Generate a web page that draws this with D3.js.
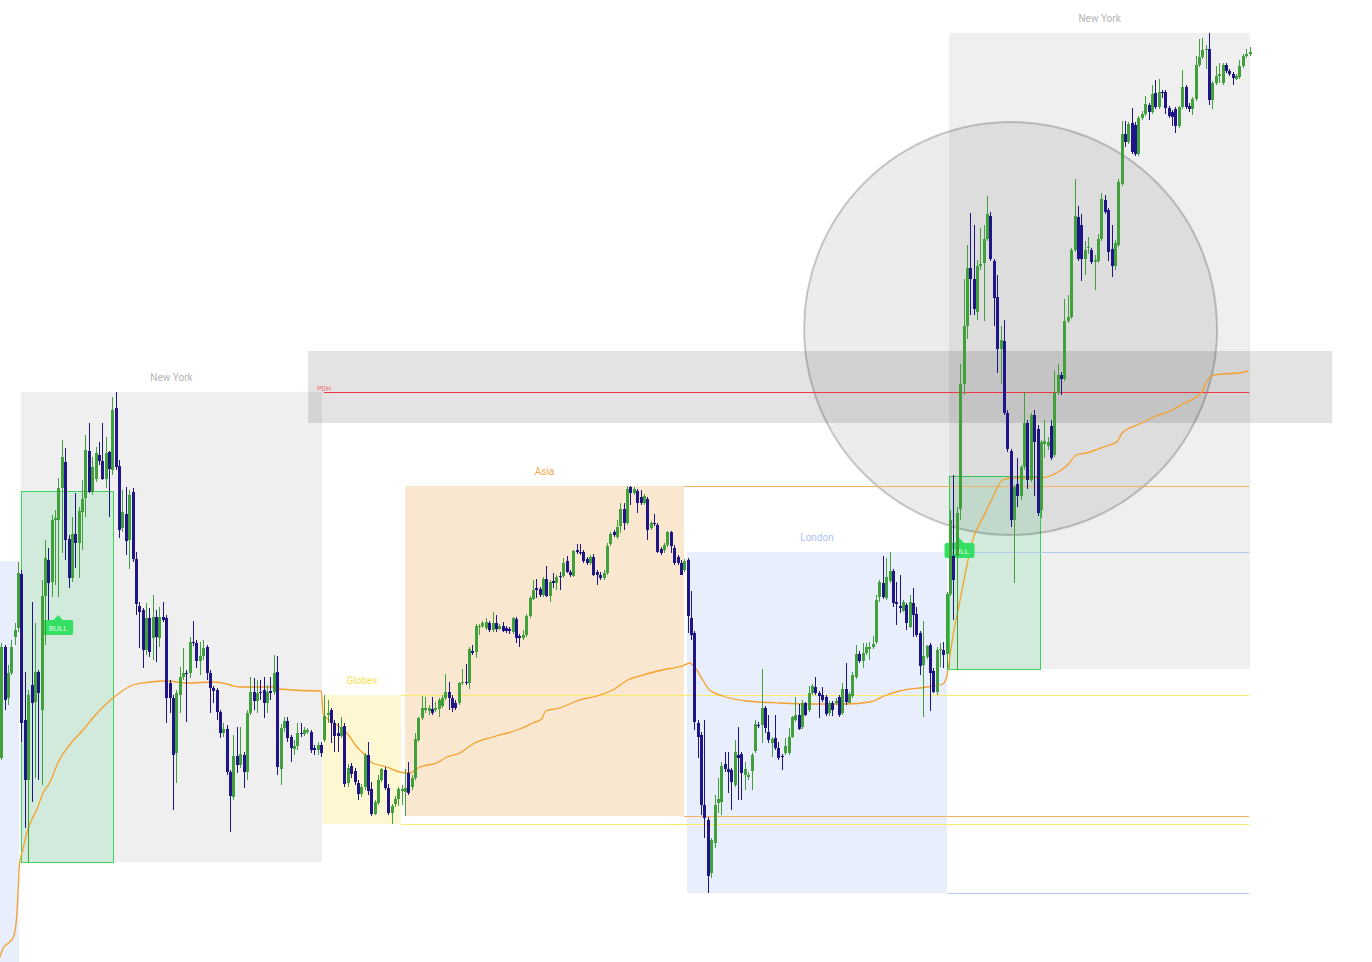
<!DOCTYPE html>
<html>
<head>
<meta charset="utf-8">
<script src="https://d3js.org/d3.v7.min.js"></script>
<style>
body { margin: 0; background: #fff; }
svg { display: block; }
text { font-family: Roboto, "Noto Sans", sans-serif; }
</style>
</head>
<body>
<script>
// bars: [open, high, low, close]
var preLondonBars = [
    [242,357,240,353],[353,355,290,300],[302,335,295,327],[327,360,325,353],[363,377,355,370],[372,438,368,427]
];

var nyAmBars = [
    [426,430,258,277],[280,328,172,220],[220,310,138,305],[315,398,198,297],[298,377,222,328],
    [328,330,220,307],[290,420,215,404],[404,460,355,442],[440,452,380,417],[418,485,403,480],
    [480,490,415,482],[480,522,403,512],[512,560,447,543],[538,552,440,460],[461,465,412,422],
    [422,483,418,466],[466,507,432,457],[457,493,422,489],[488,520,450,501],[502,565,483,550],
    [549,577,507,508],[508,543,505,533],[521,553,518,547],[545,558,535,539],[539,577,520,521],
    [521,563,512,547],[548,549,483,531],[530,603,525,590],[592,608,530,533],[534,540,462,470],
    [472,510,468,488],[486,513,445,459],[460,510,431,505],[508,512,438,441],[441,448,385,396],
    [394,398,352,388],[390,392,332,350],[350,397,345,382],[382,392,343,348],[362,405,340,383],
    [383,390,338,363],[362,393,353,383],[383,398,378,380],[382,385,277,302],[317,320,287,302],
    [302,305,190,245],[247,310,217,307],[305,333,287,323],[323,352,320,327],[327,330,278,326],
    [327,363,322,358],[358,379,354,357],[357,360,332,339],[339,358,325,344],[344,360,340,352],
    [353,355,320,327],[327,330,287,312],[312,314,297,309],[310,312,280,288],[288,290,262,267],
    [267,277,263,271],[271,275,225,228],[228,230,168,204],[203,265,200,244],[244,273,227,235],
    [235,273,232,246],[245,248,212,228],[228,290,220,287],[287,323,285,308],[308,322,290,299],
    [299,320,287,307],[308,320,300,307],[310,323,282,297],[297,315,287,308],[309,323,300,307],
    [308,345,305,327],[328,344,225,233],[231,276,215,272],[272,283,268,279],[279,283,258,262],
    [263,265,238,252],[251,260,245,254],[254,277,250,267],[267,277,263,266],[266,273,264,270],
    [268,272,266,270],[268,270,247,250],[252,255,245,250],[250,258,245,255],[255,258,243,247]
];

var globexBars = [
    [260,305,258,284],[285,300,277,287],[290,292,257,277],[277,280,248,264],[267,277,248,264],
    [264,283,262,273],[274,277,213,216],[217,236,213,232],[234,237,222,226],[229,232,215,218],
    [217,220,200,206],[206,216,203,213],[213,247,210,245],[245,258,205,209],[211,218,184,186],
    [186,200,185,198],[197,225,195,220],[220,232,218,231],[230,233,210,212],[212,216,185,187],
    [187,196,176,194],[196,204,193,201],[201,213,194,211],[209,215,195,211]
];

var asiaBars = [
    [208,231,184,212],[227,238,205,207],[213,225,210,222],[222,267,220,261],[260,283,258,282],
    [282,304,280,292],[290,303,287,292],[289,295,285,292],[291,303,285,287],[290,298,288,292],
    [291,302,283,300],[294,305,292,302],[302,326,300,308],[308,318,290,302],[302,305,288,292],
    [297,300,290,292],[297,318,295,317],[317,331,315,318],[318,336,315,317],[317,353,311,351],
    [349,355,345,347],[348,376,342,374],[373,376,365,374],[374,379,372,377],[372,382,370,378],
    [377,379,368,370],[370,388,368,377],[377,385,368,371],[371,376,370,374],[374,378,368,369],
    [372,374,367,369],[371,373,366,369],[368,383,366,382],[381,383,357,362],[364,366,353,362],
    [362,370,360,365],[365,386,363,384],[384,404,382,402],[401,420,400,410],[412,421,402,410],
    [411,413,403,405],[405,423,403,421],[421,434,403,404],[404,420,398,418],[419,427,412,417],
    [417,425,410,423],[424,428,410,423],[424,442,422,437],[439,444,427,428],[428,430,423,425],
    [424,450,423,449],[450,456,446,448],[448,456,445,447],[448,450,437,439],[441,443,435,437],
    [437,445,435,443],[443,446,424,425],[428,430,415,425],[425,428,420,422],[422,430,420,427],
    [427,457,425,454],[456,468,454,466],[468,470,463,465],[463,480,461,473],[474,497,467,491],
    [491,497,470,477],[477,514,475,511],[513,514,495,507],[507,513,505,511],[509,511,487,497],
    [503,510,495,497],[497,506,495,504],[501,503,460,470],[472,479,470,477],[477,486,474,476],
    [475,477,447,448],[451,453,445,447],[450,457,447,455],[455,469,453,468],[468,469,447,454],
    [452,455,435,437],[443,445,435,437],[437,440,425,425],[430,441,428,439]
];

var londonBars = [
    [440,442,367,384],[382,409,360,365],[367,369,270,278],[277,280,242,263],[265,268,185,195],
    [195,280,162,182],[180,183,107,124],[127,162,122,160],[157,205,152,195],[197,222,187,201],
    [198,238,185,234],[236,248,228,231],[231,248,207,228],[230,232,190,218],[215,260,213,248],
    [245,273,200,242],[246,248,200,227],[225,238,210,231],[223,228,220,225],[229,247,210,245],
    [249,280,247,276],[275,278,272,274],[275,331,257,292],[292,294,267,272],[268,285,257,260],
    [257,263,243,261],[262,285,250,252],[252,258,240,242],[244,246,230,243],[247,262,245,254],
    [247,272,245,263],[263,284,262,283],[280,303,278,285],[285,296,270,271],[273,300,271,297],
    [297,298,284,285],[290,314,288,307],[307,316,305,314],[313,323,305,307],[307,309,282,304],
    [305,313,298,300],[303,305,284,286],[287,299,284,297],[297,299,284,290],[297,302,295,299],
    [303,305,283,285],[287,317,285,311],[311,337,295,298],[297,308,297,306],[304,328,302,325],
    [323,355,321,346],[346,349,337,339],[339,357,332,347],[347,357,345,353],[351,358,340,353],
    [353,364,351,356],[358,405,356,400],[403,420,398,418],[417,444,401,403],[402,442,400,423],
    [419,448,417,429],[429,431,393,397],[398,418,375,396],[394,425,387,392],[389,400,388,398],
    [395,397,370,377],[373,405,372,398],[397,412,363,385],[386,393,363,365],[367,369,325,334],
    [335,379,283,344],[343,355,341,354],[355,357,289,327],[329,332,307,308],[308,353,305,350],
    [350,357,333,351],[350,358,332,345]
];

var nyPmBars = [
    [346,408,330,406],[406,490,404,480],[444,525,380,420],[444,493,330,487],[491,636,480,616],
    [616,721,605,674],[674,755,661,732],[732,787,685,721],[721,775,685,691],[688,740,680,734],
    [734,772,730,736],[737,775,679,761],[761,804,759,786],[784,788,739,741],[739,741,674,702],
    [703,725,627,651],[651,674,616,660],[659,680,585,587],[587,590,548,551],[549,551,473,480],
    [480,515,417,513],[516,542,493,504],[504,535,500,533],[533,608,530,577],[577,580,511,520],
    [520,587,518,585],[585,590,504,558],[571,575,484,487],[490,560,482,558],[556,580,542,559],
    [554,563,550,558],[574,580,540,542],[545,630,543,607],[607,636,605,625],[625,628,605,621],
    [621,701,619,679],[679,705,677,683],[683,752,681,750],[750,821,748,784],[783,794,739,741],
    [775,786,719,741],[741,759,725,750],[752,763,746,753],[750,752,736,738],[738,745,710,740],
    [739,766,737,761],[761,807,759,801],[800,805,786,788],[790,792,739,748],[751,775,723,734],
    [734,760,730,757],[755,821,753,818],[816,879,814,866],[866,879,853,858],[858,878,856,876],
    [877,892,846,848],[875,878,844,846],[846,884,844,882],[882,889,880,886],[886,904,884,896],
    [895,897,880,888],[888,915,886,906],[907,920,891,893],[893,921,891,908],[908,910,902,907],
    [908,910,886,892],[892,894,882,884],[888,890,874,883],[891,893,867,874],[874,894,872,893],
    [893,930,891,913],[913,915,891,893],[894,897,888,891],[891,903,885,901],[901,944,899,935],
    [935,961,933,943],[943,962,941,950],[950,955,931,951],[951,967,895,900],[900,919,891,917],
    [917,934,915,924],[924,937,917,926],[917,937,915,935],[935,937,927,929],[929,931,924,926],
    [926,928,915,922],[921,926,920,924],[923,940,921,934],[934,946,932,944],[944,951,942,946],
    [946,953,944,948]
];

// sessions (bar index units, price units)
var sessionNames = ["London", "New York", "Globex", "Asia", "London", "New York"];
var sessionStart = [-72, 5.86, 95.6, 120.0, 203.8, 281.7];
var sessionEnd = [5.26, 95.3, 118.8, 202.9, 281.1, 371.2];
var sessionHigh = [439, 608, 305, 514, 448, 967];
var sessionLow = [20, 138, 176, 184, 107, 331];
var sessionExtend = [false, false, true, true, true, false];
var levelEnd = 370.9;

var pdhValue = 608, pdhStart = 95.9;

// [from, to, top, bottom]
var bullBoxes = [[5.86, 33.2, 509, 138], [281.7, 308.8, 524, 331]];
// [index, price] of the label tip
var bullLabels = [[16.9, 385], [284.8, 462]];
var zoneBand = [91.2, 395.6, 649, 577];
var circleMark = [300.0, 671.5];

var vwapIdx = [-0.4,0.6,2.1,3.6,4.4,4.75,5.05,5.35,5.76,6.36,
    7.55,9.0,10.5,12.4,14.5,16.8,19.8,24.3,27.2,33.2,
    39.1,44.2,49.2,55.2,62.9,67.0,70.9,80.7,82.8,94.7,
    95.1,95.7,97.6,100.6,102.7,105.7,107.5,110.4,114.6,118.4,
    121.4,124.4,129.4,132.4,136.3,140.7,146.1,154.1,158.0,160.6,
    161.8,166.0,171.0,177.9,181.7,186.2,191.8,197.8,202.5,204.6,
    206.1,208.5,210.5,214.4,221.5,231.3,241.1,251.2,258.1,263.1,
    267.0,275.0,279.8,281.0,281.9,282.8,284.8,286.9,288.7,291.7,
    294.6,297.6,300.6,308.6,313.6,316.6,319.6,322.5,328.5,331.5,
    333.2,338.3,343.3,348.1,351.1,355.2,357.0,358.2,359.7,362.9,
    368.0,370.7];
var vwapVal = [43,52,57,63,77,93,113,133,143,150,
    167,180,190,207,218,237,253,270,282,302,
    315,318,319,317,318,316,313,313,311,309,
    309,285,280,273,267,253,247,237,233,228,
    227,233,237,243,247,257,263,271,277,281,
    289,292,299,305,310,320,326,331,334,337,
    333,320,310,304,299,297,296,296,298,305,
    309,313,316,323,343,363,397,433,460,482,
    502,520,522,522,527,534,545,547,554,558,
    567,576,584,590,596,603,609,618,624,626,
    627,629];

var sessionStyle = {
    "London":   { fill: "#e8eefc", text: "#a9c3f2", line: "#b3cbf3" },
    "New York": { fill: "#efefef", text: "#b4b4b4", line: "#cccccc" },
    "Globex":   { fill: "#fdf8d2", text: "#f8e150", line: "#fae96a" },
    "Asia":     { fill: "#fae7d0", text: "#f2a84e", line: "#f5b162" }
};

var width = 1372, height = 962, svg, x, y, bars;

function crisp(v) { return Math.round(v) + 0.5; }

function init() {
    bars = preLondonBars.concat(nyAmBars, globexBars, asiaBars, londonBars, nyPmBars);

    x = d3.scaleLinear().domain([0, bars.length - 1]).range([1.3, 1249.5]);
    y = d3.scaleLinear().domain([38, 1000]).range([962, 0]);

    svg = d3.select("body").append("svg")
        .attr("width", width)
        .attr("height", height);

    drawSessions();
    drawZones();
    drawLevels();
    drawVwap();
    drawBullLabels();
    drawCandles();
}

function drawSessions() {
    var g = svg.append("g").attr("class", "sessions");
    var idx = d3.range(sessionNames.length);

    g.selectAll("rect")
        .data(idx)
        .enter().append("rect")
        .attr("x", function (i) { return x(sessionStart[i]); })
        .attr("width", function (i) { return x(sessionEnd[i]) - x(sessionStart[i]); })
        .attr("y", function (i) { return y(sessionHigh[i]); })
        .attr("height", function (i) { return y(sessionLow[i]) - y(sessionHigh[i]); })
        .attr("fill", function (i) { return sessionStyle[sessionNames[i]].fill; });

    // the session that began off-screen keeps its label off-screen too
    g.selectAll("text")
        .data(idx.filter(function (i) { return sessionStart[i] >= 0; }))
        .enter().append("text")
        .attr("x", function (i) { return x((sessionStart[i] + sessionEnd[i]) / 2); })
        .attr("y", function (i) { return y(sessionHigh[i]) - 11.5; })
        .attr("text-anchor", "middle")
        .attr("font-size", 10)
        .attr("fill", function (i) { return sessionStyle[sessionNames[i]].text; })
        .text(function (i) { return sessionNames[i]; });
}

function drawZones() {
    svg.append("g").selectAll("rect")
        .data(bullBoxes)
        .enter().append("rect")
        .attr("x", function (d) { return crisp(x(d[0])); })
        .attr("width", function (d) { return Math.round(x(d[1]) - x(d[0])); })
        .attr("y", function (d) { return crisp(y(d[2])); })
        .attr("height", function (d) { return Math.round(y(d[3]) - y(d[2])); })
        .attr("fill", "rgba(46,210,113,0.15)")
        .attr("stroke", "#3bd65c")
        .attr("stroke-width", 1);

    svg.append("rect")
        .attr("x", x(zoneBand[0]))
        .attr("width", x(zoneBand[1]) - x(zoneBand[0]))
        .attr("y", y(zoneBand[2]))
        .attr("height", y(zoneBand[3]) - y(zoneBand[2]))
        .attr("fill", "rgba(0,0,0,0.11)");

    svg.append("circle")
        .attr("cx", x(circleMark[0]))
        .attr("cy", y(circleMark[1]))
        .attr("r", 206.5)
        .attr("fill", "rgba(0,0,0,0.075)")
        .attr("stroke", "rgba(0,0,0,0.2)")
        .attr("stroke-width", 2);
}

function drawLevels() {
    var g = svg.append("g").attr("class", "levels");
    var lines = [];
    sessionNames.forEach(function (name, i) {
        if (!sessionExtend[i]) return;
        lines.push({ from: sessionEnd[i], v: sessionHigh[i], c: sessionStyle[name].line });
        lines.push({ from: sessionEnd[i], v: sessionLow[i], c: sessionStyle[name].line });
    });
    lines.push({ from: pdhStart, v: pdhValue, c: "#f23645" });

    g.selectAll("line")
        .data(lines)
        .enter().append("line")
        .attr("x1", function (d) { return x(d.from); })
        .attr("x2", x(levelEnd))
        .attr("y1", function (d) { return crisp(y(d.v)); })
        .attr("y2", function (d) { return crisp(y(d.v)); })
        .attr("stroke", function (d) { return d.c; })
        .attr("stroke-width", 1);

    g.append("text")
        .attr("x", x(pdhStart))
        .attr("y", y(pdhValue) - 1.5)
        .attr("text-anchor", "middle")
        .attr("font-size", 7)
        .attr("fill", "#f23645")
        .attr("fill-opacity", 0.75)
        .text("PDH");
}

function drawVwap() {
    var line = d3.line()
        .x(function (d, i) { return x(vwapIdx[i]); })
        .y(function (d) { return y(d); })
        .curve(d3.curveMonotoneX);

    svg.append("path")
        .attr("d", line(vwapVal))
        .attr("fill", "none")
        .attr("stroke", "#f5a02a")
        .attr("stroke-width", 1.3);
}

function drawBullLabels() {
    var g = svg.append("g").selectAll("g")
        .data(bullLabels)
        .enter().append("g")
        .attr("transform", function (d) { return "translate(" + x(d[0]) + "," + y(d[1]) + ")"; });

    g.append("path")
        .attr("d", "M0,0L-5,5.5L5,5.5Z")
        .attr("fill", "#33e063");
    g.append("rect")
        .attr("x", -15).attr("y", 5).attr("width", 30).attr("height", 15).attr("rx", 2)
        .attr("fill", "#33e063");
    g.append("text")
        .attr("y", 15.8)
        .attr("text-anchor", "middle")
        .attr("font-size", 8)
        .attr("fill", "#dff8e4")
        .text("BULL");
}

function drawCandles() {
    var up = "#41a03b", down = "#1f1589";
    var g = svg.append("g").attr("class", "candles")
        .selectAll("g")
        .data(bars)
        .enter().append("g");

    g.append("line")
        .attr("x1", function (d, i) { return Math.round(x(i)) + 0.5; })
        .attr("x2", function (d, i) { return Math.round(x(i)) + 0.5; })
        .attr("y1", function (d) { return y(d[1]); })
        .attr("y2", function (d) { return y(d[2]); })
        .attr("stroke", function (d) { return d[3] >= d[0] ? up : down; })
        .attr("stroke-width", 1);

    g.append("rect")
        .attr("x", function (d, i) { return Math.round(x(i)) - 1; })
        .attr("width", 3)
        .attr("y", function (d) { return y(Math.max(d[0], d[3])); })
        .attr("height", function (d) { return Math.max(1, Math.abs(y(d[0]) - y(d[3]))); })
        .attr("fill", function (d) { return d[3] >= d[0] ? up : down; });
}

window.onload = init;
</script>
</body>
</html>
